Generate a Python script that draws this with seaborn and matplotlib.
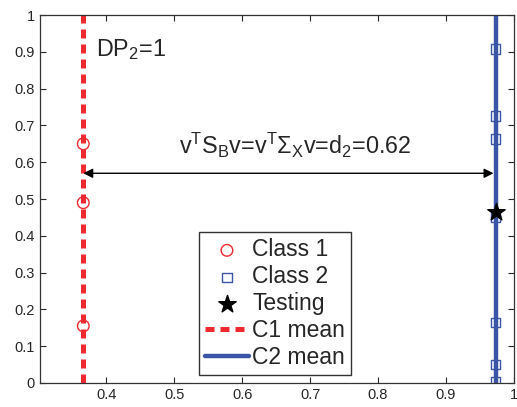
import numpy as np
import pandas as pd
import matplotlib
matplotlib.use("Agg")
import matplotlib.pyplot as plt
import seaborn as sns

# data
c1_mean = 0.366
c2_mean = 0.973
class1_y = [0.650, 0.490, 0.155]
class2_y = [0.908, 0.726, 0.663, 0.450, 0.165, 0.051, 0.004]
test_x = [0.973]
test_y = [0.466]
arrow_y = 0.57
x_ticks = [0.4, 0.5, 0.6, 0.7, 0.8, 0.9, 1.0]
x_ticklabels = ["0.4", "0.5", "0.6", "0.7", "0.8", "0.9", "1"]
y_ticks = [0, 0.1, 0.2, 0.3, 0.4, 0.5, 0.6, 0.7, 0.8, 0.9, 1.0]
y_ticklabels = ["0", "0.1", "0.2", "0.3", "0.4", "0.5", "0.6", "0.7", "0.8", "0.9", "1"]

red = "#ee2a30"
blue = "#3a55a5"

sns.set_style("ticks")
plt.rcParams['font.family'] = ['Liberation Sans', 'DejaVu Sans']
plt.rcParams['mathtext.fontset'] = 'custom'
plt.rcParams['mathtext.rm'] = 'Liberation Sans'
plt.rcParams['mathtext.it'] = 'Liberation Sans'

df1 = pd.DataFrame({'x': [c1_mean] * len(class1_y), 'y': class1_y})
df2 = pd.DataFrame({'x': [c2_mean] * len(class2_y), 'y': class2_y})
dft = pd.DataFrame({'x': test_x, 'y': test_y})

fig = plt.figure(figsize=(5.17, 4.07), dpi=100)
ax = fig.add_axes([0.077, 0.059, 0.917, 0.904])

ax.axvline(c1_mean, color=red, ls=(0, (1.8, 1.2)), lw=3.6, label='C1 mean', zorder=2)
ax.axvline(c2_mean, color=blue, lw=3.2, label='C2 mean', zorder=2)
sns.scatterplot(data=df1, x='x', y='y', ax=ax, marker='o', s=70, facecolors='none',
                edgecolor=red, linewidth=1.0, label='Class 1', zorder=3)
sns.scatterplot(data=df2, x='x', y='y', ax=ax, marker='s', s=45, facecolors='none',
                edgecolor=blue, linewidth=1.0, label='Class 2', zorder=3)
sns.scatterplot(data=dft, x='x', y='y', ax=ax, marker='*', s=170, color='black',
                edgecolor='black', label='Testing', zorder=4)

ax.annotate('', xy=(c1_mean, arrow_y), xytext=(c2_mean - 0.003, arrow_y),
            arrowprops=dict(arrowstyle='<|-|>', color='black', lw=1.0,
                            mutation_scale=14, shrinkA=0, shrinkB=0))
ax.text(0.678, 0.622, r'v$^\mathrm{T}$S$_\mathrm{B}$v=v$^\mathrm{T}$$\Sigma_\mathrm{X}$v=d$_\mathrm{2}$=0.62',
        fontsize=16.8, ha='center', va='baseline')
ax.text(0.384, 0.905, r'DP$_\mathrm{2}$=1', fontsize=16.8, ha='left', va='center')

ax.set_xlim(0.302, 1.0)
ax.set_ylim(0, 1)
ax.set_xticks(x_ticks)
ax.set_xticklabels(x_ticklabels)
ax.set_yticks(y_ticks)
ax.set_yticklabels(y_ticklabels)
ax.set_xlabel('')
ax.set_ylabel('')
ax.tick_params(direction='in', top=True, right=True, length=4, labelsize=10.5, width=0.8)
for s in ax.spines.values():
    s.set_linewidth(0.9)
    s.set_color('#333333')

h, l = ax.get_legend_handles_labels()
order = ['Class 1', 'Class 2', 'Testing', 'C1 mean', 'C2 mean']
hd = dict(zip(l, h))
leg = ax.legend([hd[k] for k in order], order, loc='lower left', bbox_to_anchor=(0.335, 0.022),
                fontsize=16.5, frameon=True, fancybox=False, edgecolor='black',
                handlelength=1.95, labelspacing=0.17, borderpad=0.26, handletextpad=0.13,
                borderaxespad=0)
leg.get_frame().set_linewidth(1.0)

fig.savefig('out.png', dpi=100)
